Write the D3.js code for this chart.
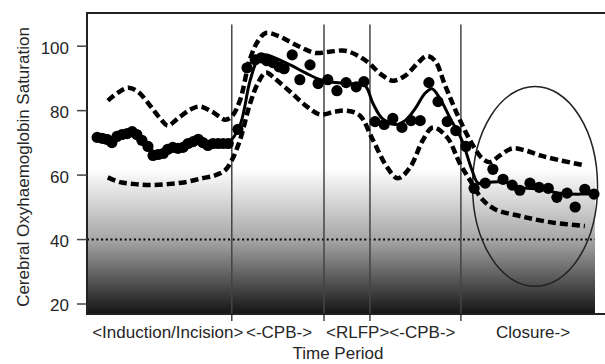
<!DOCTYPE html>
<html>
<head>
<meta charset="utf-8">
<script src="https://cdn.jsdelivr.net/npm/d3@7"></script>
<style>
  body { margin: 0; background: #fff; }
  text { font-family: "Liberation Sans", Arial, sans-serif; fill: #262626; }
</style>
</head>
<body>
<div id="chart"></div>
<script>
// observed saturation readings (time index 0-100 across the surgery)
const dotTime = [2.0, 3.0, 3.9, 4.9, 5.9, 6.9, 7.9, 8.9, 9.8, 10.8, 12.0, 13.0, 14.0, 15.0, 15.9, 16.9, 17.9, 18.9, 19.9, 20.9, 21.9, 22.8, 23.8, 24.8, 25.8, 26.8, 27.8, 29.7,
  31.5, 33.1, 34.3, 35.4, 36.6, 37.8, 38.8, 40.4, 41.9, 43.9, 45.5, 47.4, 49.2, 51.0, 53.0, 54.5,
  56.7, 58.5, 60.2, 62.0, 63.8, 65.6, 67.3, 69.1, 70.9, 72.6, 74.6,
  76.2, 78.4, 79.9, 81.9, 83.7, 85.2, 87.2, 89.0, 90.8, 92.5, 94.5, 96.1, 98.0, 99.8];
const dotSat = [71.7, 71.4, 71.1, 70.1, 72.0, 72.6, 72.9, 73.5, 72.6, 70.8, 68.9, 66.1, 66.4, 66.7, 68.0, 68.6, 68.3, 68.6, 69.8, 70.4, 71.1, 70.1, 69.2, 69.8, 69.8, 69.8, 69.8, 74.2,
  93.3, 95.8, 96.4, 95.5, 94.9, 93.6, 93.0, 97.3, 89.6, 94.2, 88.4, 89.6, 86.2, 88.7, 87.4, 89.0,
  76.6, 75.7, 77.6, 74.8, 76.9, 76.9, 88.7, 82.8, 76.6, 73.8, 68.9,
  55.9, 57.5, 61.8, 58.7, 56.9, 55.3, 57.5, 56.2, 55.9, 53.1, 54.4, 50.1, 55.6, 54.1];

// smoothed mean
const meanTime = [2.0, 3.9, 5.9, 7.9, 9.8, 11.8, 13.8, 15.8, 17.7, 19.7, 21.7, 23.6, 25.6, 28.0, 30.1, 32.1, 33.7, 35.0, 37.0, 40.0, 42.9, 45.9, 48.8, 51.8, 54.7, 56.3, 58.1, 60.6, 62.6, 64.6, 66.5, 67.9, 69.5, 71.5, 73.8, 75.8, 77.0, 79.3, 82.3, 85.2, 89.2, 93.1, 97.1, 100];
const meanSat = [71.7, 71.4, 72.0, 72.9, 72.3, 69.2, 66.7, 67.7, 68.6, 69.5, 70.8, 70.1, 70.1, 70.4, 75.4, 89.3, 96.1, 97.3, 96.4, 94.2, 91.8, 89.6, 88.7, 88.4, 87.8, 82.2, 77.6, 75.7, 76.9, 80.6, 85.3, 86.8, 83.7, 77.6, 70.8, 61.5, 57.5, 57.8, 57.8, 56.2, 55.6, 54.4, 54.1, 54.4];

// upper and lower bands
const upperTime = [4.1, 6.1, 8.1, 10.0, 12.4, 14.4, 15.9, 17.9, 20.3, 22.2, 24.6, 27.2, 28.5, 30.1, 32.1, 33.7, 35.2, 37.6, 40.0, 42.3, 44.9, 47.8, 50.8, 53.4, 55.7, 57.7, 60.2, 62.6, 65.2, 66.9, 68.5, 70.5, 73.0, 75.4, 77.8, 79.3, 81.3, 83.7, 86.2, 89.2, 93.1, 98.0];
const upperSat = [83.1, 85.6, 87.1, 85.9, 81.6, 77.6, 75.4, 77.6, 80.3, 81.3, 79.7, 77.2, 78.2, 83.1, 96.1, 101.7, 104.1, 103.2, 101.3, 99.5, 97.9, 98.3, 98.6, 97.0, 94.5, 91.5, 89.3, 90.8, 94.9, 97.0, 95.5, 87.8, 78.5, 70.8, 65.2, 64.0, 66.1, 68.3, 67.7, 66.1, 64.6, 63.0];
const lowerTime = [4.1, 6.5, 9.5, 12.4, 15.9, 19.3, 22.6, 25.2, 27.2, 28.5, 30.1, 32.1, 33.7, 35.2, 37.0, 40.4, 43.5, 45.9, 48.8, 51.2, 53.7, 56.3, 59.1, 61.2, 63.6, 66.1, 68.1, 70.9, 73.4, 75.4, 77.8, 80.3, 85.2, 91.1, 98.0];
const lowerSat = [59.3, 57.8, 57.2, 56.9, 57.2, 57.8, 59.0, 59.9, 61.5, 64.6, 70.8, 82.2, 88.7, 91.8, 89.9, 85.3, 81.0, 78.8, 79.7, 80.0, 78.5, 70.8, 62.4, 59.0, 62.4, 70.8, 74.8, 71.7, 63.6, 58.4, 52.5, 49.4, 47.3, 45.4, 44.2];

const phaseBreaks = [28.5, 46.65, 55.7, 73.6];
const phaseLabels = ['<Induction/Incision>', '<-CPB->', '<RLFP><-CPB->', 'Closure->'];
const phaseLabelTime = [15.9, 37.8, 59.8, 87.8];
const yTicks = [20, 40, 60, 80, 100];
const threshold = 40;
const closureOval = { t: 88.2, sat: 56.5, rt: 12.3, rsat: 31 };

const width = 605, height = 364;
const margin = { top: 13, right: 10, bottom: 50, left: 87 };

const svg = d3.select('#chart').append('svg')
  .attr('width', width).attr('height', height);

const x = d3.scaleLinear().domain([0, 100]).range([margin.left, width - margin.right]);
const y = d3.scaleLinear().domain([16.9, 110.3]).range([height - margin.bottom, margin.top]);

// grey fade in the lower part of the panel
const grad = svg.append('defs').append('linearGradient')
  .attr('id', 'fade').attr('x1', 0).attr('y1', 0).attr('x2', 0).attr('y2', 1);
const frac = v => (y(v) - y.range()[1]) / (y.range()[0] - y.range()[1]);
const gradStops = [[0, '#ffffff'], [frac(62), '#ffffff'], [frac(40), '#a6a6a6'], [1, '#141414']];
gradStops.forEach(s => grad.append('stop').attr('offset', s[0]).attr('stop-color', s[1]));

svg.append('rect')
  .attr('x', x(0)).attr('y', y.range()[1])
  .attr('width', x(100) - x(0)).attr('height', y.range()[0] - y.range()[1])
  .attr('fill', 'url(#fade)');

// threshold line
svg.append('line')
  .attr('x1', x(0)).attr('x2', x(100)).attr('y1', y(threshold)).attr('y2', y(threshold))
  .attr('stroke', '#000').attr('stroke-width', 2).attr('stroke-dasharray', '2,2.7');

// phase separators
svg.selectAll('.phase').data(phaseBreaks).enter().append('line')
  .attr('x1', d => x(d)).attr('x2', d => x(d))
  .attr('y1', y(106.7)).attr('y2', y.range()[0] + 7)
  .attr('stroke', '#444').attr('stroke-width', 1.5);

// frame (runs off the right edge)
svg.append('path')
  .attr('d', `M${x(104)},${y.range()[1]}H${x(0)}V${y.range()[0]}H${x(104)}`)
  .attr('fill', 'none').attr('stroke', '#222').attr('stroke-width', 2);

// y axis ticks
svg.selectAll('.ytick').data(yTicks).enter().append('line')
  .attr('x1', x(0) - 10).attr('x2', x(0)).attr('y1', d => y(d)).attr('y2', d => y(d))
  .attr('stroke', '#444').attr('stroke-width', 1.5);
svg.selectAll('.ylab').data(yTicks).enter().append('text')
  .attr('x', x(0) - 18).attr('y', d => y(d) + 3)
  .attr('text-anchor', 'end').attr('dominant-baseline', 'middle')
  .style('font-size', '17px').text(d => d);

// oval around closure
svg.append('ellipse')
  .attr('cx', x(closureOval.t)).attr('cy', y(closureOval.sat))
  .attr('rx', x(closureOval.t + closureOval.rt) - x(closureOval.t))
  .attr('ry', y(closureOval.sat - closureOval.rsat) - y(closureOval.sat))
  .attr('fill', 'none').attr('stroke', '#222').attr('stroke-width', 1.5);

const line = d3.line().x(d => x(d[0])).y(d => y(d[1])).curve(d3.curveCatmullRom);

[[upperTime, upperSat], [lowerTime, lowerSat]].forEach(([ts, vs]) => {
  svg.append('path')
    .attr('d', line(ts.map((t, i) => [t, vs[i]])))
    .attr('fill', 'none').attr('stroke', '#000')
    .attr('stroke-width', 4.5).attr('stroke-dasharray', '8,4');
});

svg.append('path')
  .attr('d', line(meanTime.map((t, i) => [t, meanSat[i]])))
  .attr('fill', 'none').attr('stroke', '#000').attr('stroke-width', 3);

svg.selectAll('.dot').data(dotTime.map((t, i) => [t, dotSat[i]])).enter().append('circle')
  .attr('cx', d => x(d[0])).attr('cy', d => y(d[1])).attr('r', 5.6)
  .attr('fill', '#000');

// phase labels and axis titles
svg.selectAll('.plab').data(phaseLabels).enter().append('text')
  .attr('x', (d, i) => x(phaseLabelTime[i])).attr('y', 338)
  .attr('text-anchor', 'middle').style('font-size', '17px').text(d => d);

svg.append('text')
  .attr('x', (x(0) + x(100)) / 2 - 3).attr('y', 359)
  .attr('text-anchor', 'middle').style('font-size', '17px').text('Time Period');

svg.append('text')
  .attr('transform', 'translate(29,167) rotate(-90)')
  .attr('text-anchor', 'middle').style('font-size', '17px')
  .text('Cerebral Oxyhaemoglobin Saturation');
</script>
</body>
</html>
